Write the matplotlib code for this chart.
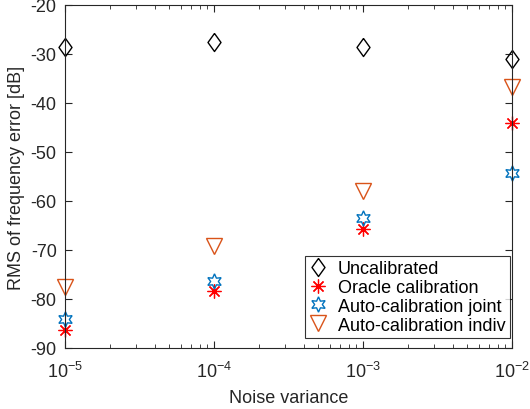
import numpy as np
import matplotlib
matplotlib.use("Agg")
import matplotlib.pyplot as plt

plt.rcParams['font.family'] = ['Liberation Sans', 'DejaVu Sans']
plt.rcParams['axes.unicode_minus'] = False
plt.rcParams['mathtext.fontset'] = 'custom'
plt.rcParams['mathtext.rm'] = 'Liberation Sans'

noise_var = [1e-5, 1e-4, 1e-3, 1e-2]
uncalibrated = [-28.5, -27.5, -28.5, -31.0]
oracle = [-86.3, -78.4, -65.8, -44.0]
auto_joint = [-84.1, -76.4, -63.5, -54.2]
auto_indiv = [-77.6, -69.2, -57.9, -36.7]

diamond = [(0, 1), (0.72, 0), (0, -1), (-0.72, 0), (0, 1)]

fig = plt.figure(figsize=(5.3, 4.1), dpi=100)
ax = fig.add_axes([0.1226, 0.1488, 0.8434, 0.8366])

ax.plot(noise_var, uncalibrated, linestyle='none', marker=diamond, markersize=13,
        markerfacecolor='none', markeredgecolor='k', markeredgewidth=1.0,
        label='Uncalibrated', clip_on=False)
ax.plot(noise_var, oracle, linestyle='none', marker=(8, 2, 0), markersize=10,
        color='#FF0000', markeredgewidth=0.9, label='Oracle calibration', clip_on=False)
ax.plot(noise_var, auto_joint, linestyle='none', marker=(6, 1, 0), markersize=11,
        markerfacecolor='none', markeredgecolor='#0072BD', markeredgewidth=1.0,
        label='Auto-calibration joint', clip_on=False)
ax.plot(noise_var, auto_indiv, linestyle='none', marker='v', markersize=12,
        markerfacecolor='none', markeredgecolor='#D95319', markeredgewidth=1.0,
        label='Auto-calibration indiv', clip_on=False)

ax.set_xscale('log')
ax.set_xlim(1e-5, 1e-2)
ax.set_ylim(-90, -20)
ax.set_yticks(np.arange(-90, -19, 10))
ax.tick_params(which='both', direction='in', top=True, right=True, labelsize=13,
               color='#262626', labelcolor='#262626')
ax.tick_params(which='major', length=5)
ax.tick_params(which='minor', length=3)
ax.tick_params(axis='y', pad=6)
ax.tick_params(axis='x', pad=9)
for s in ax.spines.values():
    s.set_color('#262626')
    s.set_linewidth(0.8)

ax.set_xlabel('Noise variance', fontsize=13, color='#262626', labelpad=6)
ax.set_ylabel('RMS of frequency error [dB]', fontsize=13, color='#262626', labelpad=4)

leg = ax.legend(loc='lower right', bbox_to_anchor=(0.996, 0.029), borderaxespad=0,
                fontsize=13, frameon=True, fancybox=False, edgecolor='k',
                handletextpad=0.6, labelspacing=0.1, borderpad=0.25, handlelength=1.0)
leg.get_frame().set_linewidth(0.8)

fig.savefig('out.png', dpi=100)
